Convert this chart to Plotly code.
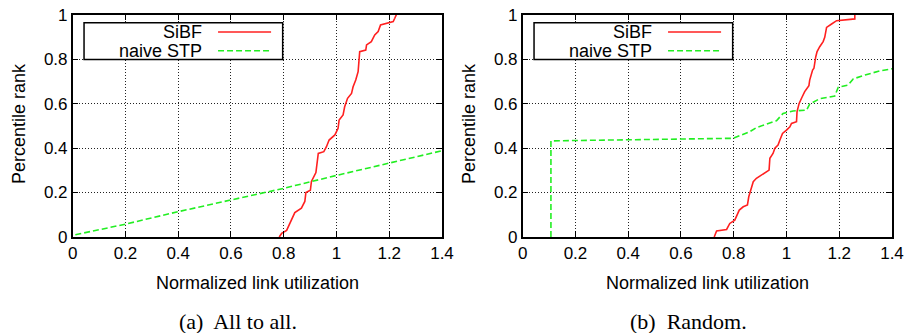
import plotly.graph_objects as go

# ---- data ----
x_ticks = [0, 0.2, 0.4, 0.6, 0.8, 1, 1.2, 1.4]
x_tick_text = ["0", "0.2", "0.4", "0.6", "0.8", "1", "1.2", "1.4"]
y_ticks = [0, 0.2, 0.4, 0.6, 0.8, 1]
y_tick_text = ["0", "0.2", "0.4", "0.6", "0.8", "1"]

# (a) All to all
a_sibf_x = [0.783, 0.792, 0.811, 0.827, 0.839, 0.842, 0.867, 0.880, 0.884, 0.901, 0.905, 0.912,
            0.922, 0.931, 0.952, 0.962, 0.972, 0.994, 1.006, 1.010, 1.025, 1.031, 1.042, 1.057,
            1.063, 1.073, 1.082, 1.088, 1.111, 1.114, 1.132, 1.145, 1.158, 1.167, 1.215, 1.221, 1.227]
a_sibf_y = [0.0, 0.016, 0.03, 0.07, 0.10, 0.11, 0.13, 0.16, 0.20, 0.21, 0.25, 0.27,
            0.29, 0.376, 0.384, 0.406, 0.436, 0.459, 0.489, 0.526, 0.549, 0.586, 0.624, 0.646,
            0.676, 0.706, 0.744, 0.834, 0.841, 0.864, 0.879, 0.909, 0.924, 0.954, 0.969, 0.984, 1.0]
a_stp_x = [0.01, 0.2, 0.4, 0.6, 0.8, 1.0, 1.2, 1.4]
a_stp_y = [0.01, 0.058, 0.114, 0.166, 0.219, 0.277, 0.332, 0.388]

# (b) Random
b_sibf_x = [0.726, 0.735, 0.773, 0.785, 0.804, 0.813, 0.821, 0.836, 0.852, 0.857, 0.865, 0.874,
            0.886, 0.918, 0.934, 0.937, 0.949, 0.956, 0.968, 0.975, 0.985, 1.000, 1.013, 1.019,
            1.038, 1.040, 1.048, 1.057, 1.069, 1.085, 1.088, 1.099, 1.104, 1.111, 1.116, 1.126,
            1.139, 1.145, 1.152, 1.171, 1.190, 1.259, 1.259]
b_sibf_y = [0.0, 0.027, 0.034, 0.061, 0.076, 0.099, 0.121, 0.136, 0.144, 0.181, 0.219, 0.249,
            0.264, 0.289, 0.301, 0.354, 0.376, 0.399, 0.414, 0.436, 0.466, 0.481, 0.496, 0.511,
            0.519, 0.564, 0.601, 0.624, 0.654, 0.681, 0.706, 0.751, 0.759, 0.811, 0.834, 0.856,
            0.879, 0.898, 0.943, 0.958, 0.973, 0.981, 1.0]
b_stp_x = [0.107, 0.107, 0.141, 0.798, 0.829, 0.861, 0.886, 0.924, 0.962, 0.987, 1.025, 1.076,
           1.088, 1.126, 1.183, 1.196, 1.234, 1.253, 1.298, 1.354, 1.40]
b_stp_y = [0.0, 0.432, 0.433, 0.444, 0.459, 0.474, 0.492, 0.508, 0.523, 0.556, 0.567, 0.571,
           0.598, 0.622, 0.634, 0.673, 0.684, 0.711, 0.729, 0.747, 0.757]

series_names = ["SiBF", "naive STP"]
captions = ["(a)  All to all.", "(b)  Random."]

RED = "#ff2020"
GREEN = "#22ee22"
SANS = "Liberation Sans, Arial, sans-serif"
SERIF = "Liberation Serif, Times New Roman, serif"

W, H = 909, 333


def px(p):
    return p / W


def py(p):
    return 1 - p / H


dom_x = [[px(72.7), px(442)], [px(522.7), px(892)]]
dom_y = [py(237), py(14.7)]

fig = go.Figure()

panels = [(a_sibf_x, a_sibf_y, a_stp_x, a_stp_y), (b_sibf_x, b_sibf_y, b_stp_x, b_stp_y)]
for i, (sx, sy, nx, ny) in enumerate(panels):
    xa = "x" if i == 0 else "x2"
    ya = "y" if i == 0 else "y2"
    fig.add_trace(go.Scatter(x=sx, y=sy, mode="lines", xaxis=xa, yaxis=ya,
                             line=dict(color=RED, width=1.6), showlegend=False, hoverinfo="skip"))
    fig.add_trace(go.Scatter(x=nx, y=ny, mode="lines", xaxis=xa, yaxis=ya,
                             line=dict(color=GREEN, width=1.6, dash="6px,3px"), showlegend=False,
                             hoverinfo="skip"))

axis_common = dict(showgrid=True, gridcolor="#222222", griddash="1px,2px", gridwidth=1,
                   zeroline=False, showline=True, linecolor="black", linewidth=1.5,
                   mirror="allticks", ticks="inside", ticklen=6, tickcolor="black",
                   automargin=False,
                   tickfont=dict(family=SANS, size=17, color="black"))

layout = dict(width=W, height=H, margin=dict(l=0, r=0, t=0, b=0),
              plot_bgcolor="white", paper_bgcolor="white", showlegend=False)
for i in range(2):
    sfx = "" if i == 0 else "2"
    layout["xaxis" + sfx] = dict(domain=dom_x[i], range=[0, 1.4], tickvals=x_ticks,
                                 ticktext=x_tick_text, anchor="y" + sfx, **axis_common)
    layout["yaxis" + sfx] = dict(domain=dom_y, range=[0, 1], tickvals=y_ticks,
                                 ticktext=y_tick_text, anchor="x" + sfx, **axis_common)
fig.update_layout(**layout)

shapes = []
annotations = []
for i in range(2):
    sfx = "" if i == 0 else "2"
    xr, yr = "x" + sfx, "y" + sfx
    # legend box
    shapes.append(dict(type="rect", xref=xr, yref=yr, x0=0.043, x1=0.796, y0=0.799, y1=0.964,
                       fillcolor="white", line=dict(color="black", width=1.5), layer="above"))
    for name, col, dash, yy in [(series_names[0], RED, "solid", 0.922),
                                (series_names[1], GREEN, "6px,3px", 0.838)]:
        shapes.append(dict(type="line", xref=xr, yref=yr, x0=0.551, x1=0.752, y0=yy, y1=yy,
                           line=dict(color=col, width=1.6, dash=dash), layer="above"))
        annotations.append(dict(text=name, xref=xr, yref=yr, x=0.495, y=yy, xanchor="right",
                                yanchor="middle", showarrow=False, borderpad=0,
                                font=dict(family=SANS, size=18, color="black")))
    cx = (dom_x[i][0] + dom_x[i][1]) / 2
    annotations.append(dict(text="Normalized link utilization", xref="paper", yref="paper",
                            x=cx, y=py(283), xanchor="center", yanchor="middle",
                            showarrow=False, font=dict(family=SANS, size=18, color="black")))
    annotations.append(dict(text="Percentile rank", xref="paper", yref="paper",
                            x=px(19 if i == 0 else 469), y=py(124), textangle=-90,
                            xanchor="center", yanchor="middle", showarrow=False,
                            font=dict(family=SANS, size=18, color="black")))
    annotations.append(dict(text=captions[i], xref="paper", yref="paper",
                            x=px(238 if i == 0 else 688), y=py(321), xanchor="center",
                            yanchor="middle", showarrow=False,
                            font=dict(family=SERIF, size=22, color="black")))

fig.update_layout(shapes=shapes, annotations=annotations)
# drop the default page margin so the figure sits at the window's top-left corner
fig.write_html("out.html", config={"displayModeBar": False},
               post_script="document.body.style.margin='0';")
